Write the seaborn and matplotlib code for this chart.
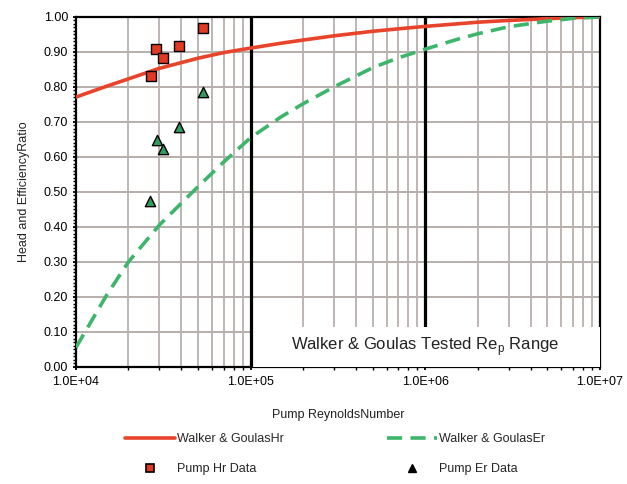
import matplotlib
matplotlib.use("Agg")
import matplotlib.pyplot as plt
import matplotlib.ticker as mticker
from matplotlib.patches import Rectangle
from matplotlib.lines import Line2D
import numpy as np
import pandas as pd
import seaborn as sns

sns.set_theme(style="white")
plt.rcParams['font.family'] = ['Liberation Sans', 'DejaVu Sans']

# ---- data ----
curve_re = [1e4, 1.5e4, 2e4, 3e4, 5e4, 7e4, 1e5, 1.5e5, 2e5, 3e5, 5e5, 7e5,
            1e6, 1.5e6, 2e6, 3e6, 5e6, 7e6, 1e7]
curve_hr = [0.771, 0.802, 0.823, 0.853, 0.882, 0.898, 0.911, 0.925, 0.934,
            0.946, 0.959, 0.966, 0.973, 0.980, 0.985, 0.990, 0.995, 0.998, 1.000]
curve_er = [0.055, 0.205, 0.300, 0.405, 0.515, 0.585, 0.655, 0.715, 0.752,
            0.800, 0.855, 0.883, 0.908, 0.935, 0.952, 0.972, 0.988, 0.996, 1.000]

pump_re = [2.68e4, 2.87e4, 3.14e4, 3.88e4, 5.32e4]
pump_hr = [0.831, 0.909, 0.883, 0.917, 0.969]
pump_er_re = [2.65e4, 2.90e4, 3.14e4, 3.88e4, 5.32e4]
pump_er = [0.474, 0.649, 0.623, 0.686, 0.786]

x_ticks = [1e4, 1e5, 1e6, 1e7]
x_tick_labels = ["1.0E+04", "1.0E+05", "1.0E+06", "1.0E+07"]
y_ticks = [0.0, 0.1, 0.2, 0.3, 0.4, 0.5, 0.6, 0.7, 0.8, 0.9, 1.0]

curves = pd.DataFrame({"Re": curve_re, "Hr": curve_hr, "Er": curve_er})
pts_hr = pd.DataFrame({"Re": pump_re, "val": pump_hr})
pts_er = pd.DataFrame({"Re": pump_er_re, "val": pump_er})

RED = "#e8432b"
GREEN = "#3db56a"
SQ_FILL = "#e23a22"
TRI_FILL = "#2f9c5c"
GRID = "#b8b0ac"
FS = 9

fig = plt.figure(figsize=(6.27, 4.84), dpi=100)
ax = fig.add_axes([0.121, 0.242, 0.836, 0.723])
ax.set_xscale("log")
ax.set_xlim(1e4, 1e7)
ax.set_ylim(0, 1.0)

# horizontal grid at the y tick values
for yv in y_ticks[1:-1]:
    ax.axhline(yv, color=GRID, linewidth=1.4, zorder=1.2)

# curves
sns.lineplot(data=curves, x="Re", y="Hr", ax=ax, color=RED, linewidth=2.6,
             zorder=4, legend=False)
sns.lineplot(data=curves, x="Re", y="Er", ax=ax, color=GREEN, linewidth=2.6,
             zorder=4, legend=False)
ax.lines[-1].set_dashes([4.2, 2.3])

# points
sns.scatterplot(data=pts_hr, x="Re", y="val", ax=ax, marker="s", s=55,
                color=SQ_FILL, edgecolor="black", linewidth=1.0, zorder=5,
                legend=False)
sns.scatterplot(data=pts_er, x="Re", y="val", ax=ax, marker="^", s=55,
                color=TRI_FILL, edgecolor="black", linewidth=1.0, zorder=5,
                legend=False)

ax.set_xlim(1e4, 1e7)
ax.set_ylim(0, 1.0)

# ticks
ax.xaxis.set_major_locator(mticker.FixedLocator(x_ticks))
ax.xaxis.set_major_formatter(mticker.FixedFormatter(x_tick_labels))
ax.xaxis.set_minor_locator(mticker.LogLocator(base=10, subs=np.arange(2, 10)))
ax.xaxis.set_minor_formatter(mticker.NullFormatter())
ax.yaxis.set_major_locator(mticker.FixedLocator(y_ticks))
ax.yaxis.set_major_formatter(mticker.FormatStrFormatter("%.2f"))
ax.yaxis.set_minor_locator(mticker.MultipleLocator(0.01))
ax.tick_params(axis="both", which="major", direction="inout", length=5,
               width=1.3, labelsize=FS, colors="black", pad=3,
               left=True, bottom=True)
ax.tick_params(axis="both", which="minor", direction="out", length=2.5,
               width=1.0, color="black", left=True, bottom=True)
ax.tick_params(axis="x", which="major", pad=4)

ax.grid(True, axis="x", which="both", color=GRID, linewidth=1.3)
ax.grid(True, axis="y", which="major", color=GRID, linewidth=1.3)

# heavy vertical lines and tested-range box
ax.axvline(1e6, color="black", linewidth=2.3, zorder=2.5)
ax.add_patch(Rectangle((1e5, 0.0), 1e7 - 1e5, 0.115, facecolor="white",
                       edgecolor="none", zorder=2.6))
ax.axvline(1e5, color="black", linewidth=2.3, zorder=2.7)
ax.text(1e6, 0.058, "Walker & Goulas Tested Re$_\\mathregular{p}$ Range",
        ha="center", va="center", fontsize=12, color="#222222", zorder=3)

for sp in ax.spines.values():
    sp.set_color("black")
    sp.set_linewidth(1.6)
    sp.set_visible(True)

ax.set_xlabel("Pump ReynoldsNumber", fontsize=FS, labelpad=15, color="#222222")
ax.set_ylabel("Head and EfficiencyRatio", fontsize=FS, labelpad=10, color="#222222")

# legends
h_hr = Line2D([], [], color=RED, linewidth=2.6)
h_er = Line2D([], [], color=GREEN, linewidth=2.6, dashes=[4.2, 2.3])
h_phr = Line2D([], [], linestyle="none", marker="s", markersize=5.5,
               markerfacecolor=SQ_FILL, markeredgecolor="black", markeredgewidth=1.2)
h_per = Line2D([], [], linestyle="none", marker="^", markersize=6,
               markerfacecolor="black", markeredgecolor="black")
kw = dict(loc="upper left", frameon=False, fontsize=FS, handlelength=4.0,
          handletextpad=0.15, labelspacing=1.45, borderaxespad=0, borderpad=0)
fig.legend([h_hr, h_phr], ["Walker & GoulasHr", "Pump Hr Data"],
           bbox_to_anchor=(125 / 627, 1 - 433 / 484), **kw)
fig.legend([h_er, h_per], ["Walker & GoulasEr", "Pump Er Data"],
           bbox_to_anchor=(387 / 627, 1 - 433 / 484), **kw)

fig.savefig("out.png", dpi=100, facecolor="white")
